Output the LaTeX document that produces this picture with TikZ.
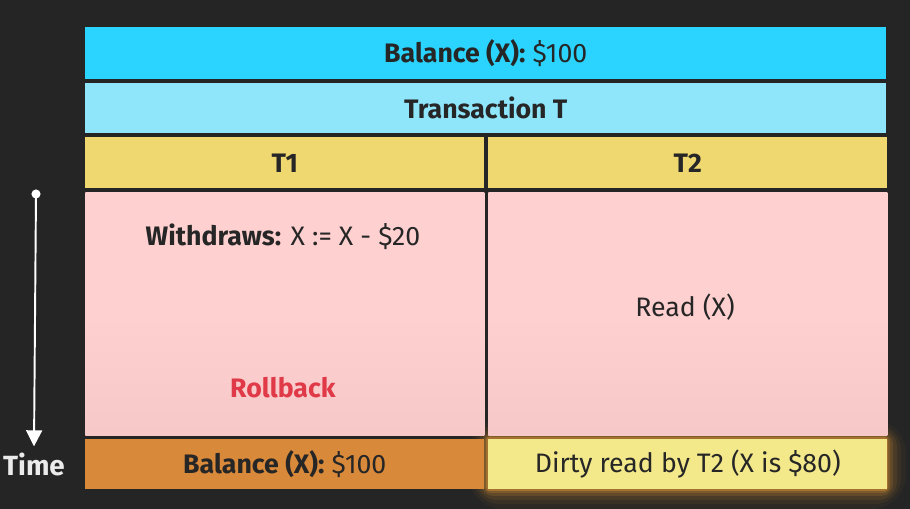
\documentclass[tikz,border=0pt]{standalone}
\usepackage{fontspec}
\setmainfont{Fira Sans}
\usetikzlibrary{arrows.meta, positioning, calc}
\definecolor{bgdark}{RGB}{37, 37, 37}
\definecolor{cyantop}{RGB}{42, 212, 255}
\definecolor{cyanlight}{RGB}{143, 230, 251}
\definecolor{headyellow}{RGB}{240, 216, 112}
\definecolor{cellpink}{RGB}{255, 208, 208}
\definecolor{cellpinkdark}{RGB}{246, 200, 200}
\definecolor{resorange}{RGB}{217, 137, 58}
\definecolor{dirtyyellow}{RGB}{243, 232, 138}
\definecolor{glow}{RGB}{255, 170, 60}
\definecolor{rollred}{RGB}{224, 58, 72}
\definecolor{inktext}{RGB}{38, 38, 38}

\begin{document}
\begin{tikzpicture}[
    x=0.02cm, y=-0.02cm,
    cell/.style={inner sep=0pt, anchor=north west, font=\fontsize{15.2}{18}\selectfont,
                 text=inktext},
    wide/.style={cell, minimum width=16.02cm},
    half/.style={cell, minimum width=7.98cm},
    lbl/.style={font=\fontsize{15.2}{18}\selectfont, text=inktext},
    arr/.style={-{Triangle[length=3.2mm, width=3.2mm]}, white, line width=1.1pt}
]

% background and page size
\fill[bgdark] (0, 0) rectangle (910, 509);
\useasboundingbox (0, 0) rectangle (910, 509);

% glow round the dirty read cell
\foreach \g/\o in {20/0.04, 15/0.06, 11/0.09, 7/0.13, 4/0.18, 2/0.3}
    \fill[glow, opacity=\o, rounded corners=\g] (488-\g, 439-\g) rectangle (886+\g, 489+\g);

% header rows
\node[wide, fill=cyantop, minimum height=1.04cm] (balance) at (85, 27)
    {\textbf{Balance (X):} \$100};
\node[wide, fill=cyanlight, minimum height=1.0cm] (trans) at (85, 83)
    {\textbf{Transaction T}};
\node[half, fill=headyellow, minimum height=1.02cm] (t1) at (85, 137) {\textbf{T1}};
\node[half, fill=headyellow, minimum height=1.02cm] (t2) at (488, 137) {\textbf{T2}};

% transaction bodies
\node[half, top color=cellpink, bottom color=cellpinkdark, middle color=cellpink,
      minimum height=4.86cm] (body1) at (85, 192) {};
\node[half, top color=cellpink, bottom color=cellpinkdark, middle color=cellpink,
      minimum height=4.86cm] (body2) at (488, 192) {};

\node[lbl] (withdraw) at (283, 237) {\textbf{Withdraws:} X := X - \$20};
\node[lbl, text=rollred] (rollback) at (283, 388) {\textbf{Rollback}};
\node[lbl] (read) at (685, 307) {Read (X)};

% outcome row
\node[half, fill=resorange, minimum height=1.0cm] (result1) at (85, 439)
    {\textbf{Balance (X):} \$100};
\node[half, fill=dirtyyellow, minimum height=1.0cm] (result2) at (488, 439)
    {Dirty read by T2 (X is \$80)};

% time axis
\coordinate (tstart) at (36, 194);
\node[font=\fontsize{15.8}{18}\selectfont\bfseries, text=white!92!black] (time) at (34, 464) {Time};
\draw[arr] (tstart) -- (time.north);
\fill[white] (tstart) circle (2.6pt);

\end{tikzpicture}
\end{document}
